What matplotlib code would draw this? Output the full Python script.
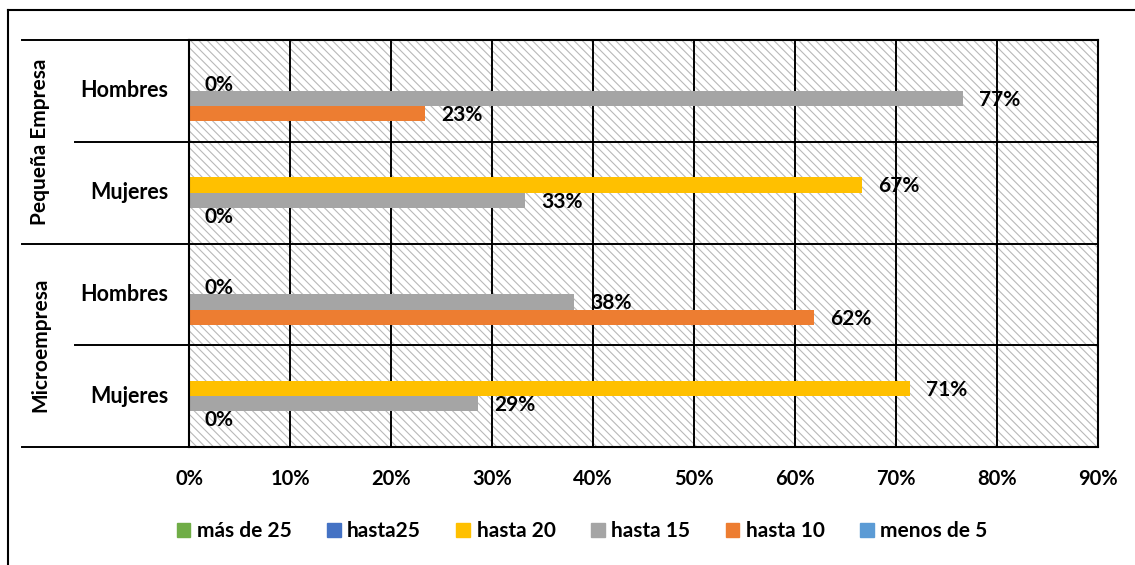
import numpy as np
import matplotlib
matplotlib.use("Agg")
import matplotlib.pyplot as plt
from matplotlib.patches import Rectangle
from matplotlib.lines import Line2D

plt.rcParams['font.family'] = ['Lato', 'DejaVu Sans']
plt.rcParams['font.weight'] = 'bold'
plt.rcParams['hatch.linewidth'] = 0.8

# data (rows top to bottom)
groups = ["Pequeña Empresa", "Microempresa"]
rows = ["Hombres", "Mujeres", "Hombres", "Mujeres"]
series = ["más de 25", "hasta25", "hasta 20", "hasta 15", "hasta 10", "menos de 5"]
colors = ["#70ad47", "#4472c4", "#ffc000", "#a5a5a5", "#ed7d31", "#5b9bd5"]
mas25 = [None, None, None, None]
hasta25 = [None, None, None, None]
hasta20 = [0.0, 0.666, 0.0, 0.714]
hasta15 = [0.766, 0.333, 0.381, 0.286]
hasta10 = [0.234, 0.0, 0.619, 0.0]
menos5 = [None, None, None, None]
values = [mas25, hasta25, hasta20, hasta15, hasta10, menos5]
xticks = np.arange(0, 0.91, 0.1)

W, H = 1135, 565
fig = plt.figure(figsize=(W / 100, H / 100), dpi=100)
ax = fig.add_axes([189 / W, 1 - 447 / H, (1098 - 189) / W, (447 - 40) / H])

# hatched background
ax.add_patch(Rectangle((0, 0), 1, 1, transform=ax.transAxes, facecolor="white",
                       edgecolor="#b8b8b8", hatch="\\\\\\\\", lw=0, zorder=0))

bh = 0.15
ypos = np.arange(len(rows))
for i, (name, vals, c) in enumerate(zip(series, values, colors)):
    yy = ypos - 0.375 + bh * i
    v = np.array([np.nan if x is None else x for x in vals], dtype=float)
    ax.barh(yy, np.nan_to_num(v), height=bh, color=c, label=name, zorder=2)
    for y, x in zip(yy, v):
        if np.isnan(x):
            continue
        ax.annotate(f"{x:.0%}", (x, y), xytext=(11.5, -1), textcoords="offset points",
                    va="center", ha="left", fontsize=15, fontweight="bold", zorder=3)

ax.set_xlim(0, 0.9)
ax.set_ylim(3.5, -0.5)
ax.set_xticks(xticks)
ax.set_xticklabels([f"{t:.0%}" for t in xticks], fontsize=14.5, fontweight="bold")
ax.tick_params(axis="x", length=0, pad=16)
ax.set_yticks([])
ax.grid(axis="x", color="black", lw=1.4, zorder=1)
ax.set_axisbelow(True)
for s in ax.spines.values():
    s.set_color("black")
    s.set_linewidth(1.5)
    s.set_zorder(4)

# category boundaries
ytr = ax.get_yaxis_transform()
for yb in [0.5, 2.5]:
    ax.axhline(yb, color="black", lw=1.4, zorder=1)
    ax.plot([(75 - 189) / 909, 0], [yb, yb], transform=ytr, color="black", lw=1.4, clip_on=False)
for yb in [-0.5, 1.5, 3.5]:
    ax.axhline(yb, color="black", lw=1.4, zorder=1)
    ax.plot([(22 - 189) / 909, 0], [yb, yb], transform=ytr, color="black", lw=1.4, clip_on=False)

# row and group labels
for y, r in zip(ypos, rows):
    ax.text((168 - 189) / 909, y, r, transform=ytr, ha="right", va="center",
            fontsize=15.5, fontweight="bold")
for k, g in enumerate(groups):
    ax.text((40 - 189) / 909, 2 * k + 0.5, g, transform=ytr, ha="center", va="center",
            rotation=90, fontsize=15, fontweight="bold")

# legend
handles = [Rectangle((0, 0), 1, 1, color=c) for c in colors]
fig.legend(handles, series, loc="center", bbox_to_anchor=(582 / W, 1 - 531 / H), ncol=6,
           frameon=False, handlelength=0.67, handleheight=0.67,
           handletextpad=0.3, columnspacing=1.7, prop={"weight": "bold", "size": 15})

# outer frame
fig.add_artist(Line2D([8 / W, 8 / W], [0, 1 - 10 / H], color="black", lw=1.5))
fig.add_artist(Line2D([8 / W, 1], [1 - 10 / H, 1 - 10 / H], color="black", lw=1.5))

fig.savefig("out.png", dpi=100)
